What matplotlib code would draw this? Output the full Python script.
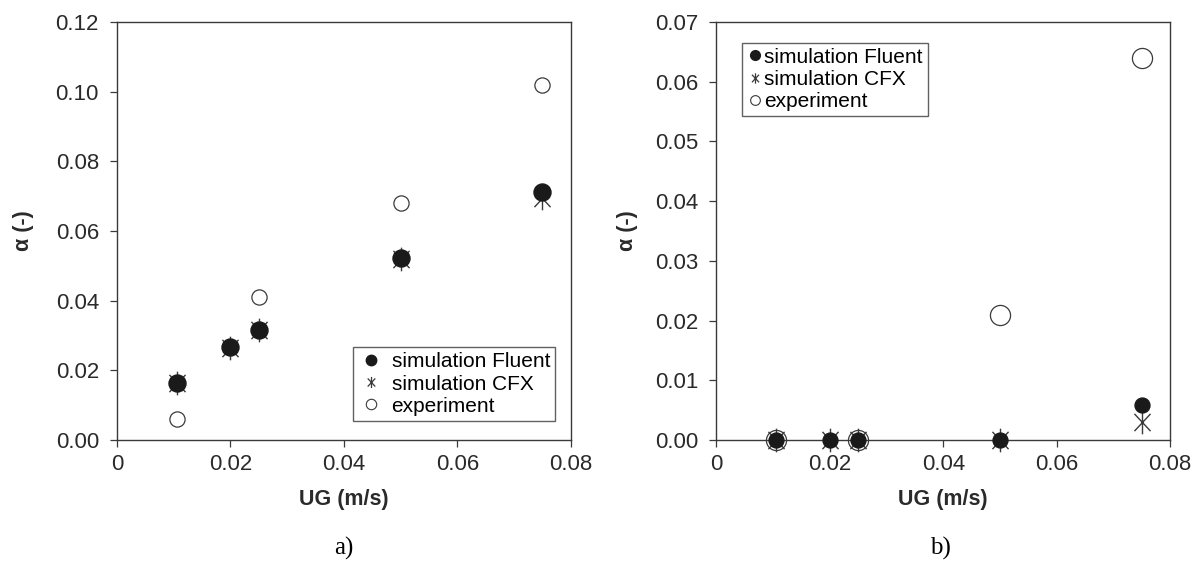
"""Gas holdup vs superficial gas velocity: simulations against experiment."""

import matplotlib
matplotlib.use("Agg")
import matplotlib.pyplot as plt
from matplotlib.lines import Line2D
from matplotlib.path import Path
import numpy as np

plt.rcParams["font.family"] = ["Liberation Sans", "DejaVu Sans"]

# panel a)
ug_a = [0.0105, 0.02, 0.025, 0.05, 0.075]
fluent_a = [0.0165, 0.0267, 0.0315, 0.0523, 0.0713]
cfx_a = [0.0165, 0.0265, 0.0315, 0.0520, 0.0695]
ug_exp_a = [0.0105, 0.025, 0.05, 0.075]
exp_a = [0.006, 0.041, 0.068, 0.102]

# panel b)
ug_b = [0.0105, 0.02, 0.025, 0.05, 0.075]
fluent_b = [0.0, 0.0, 0.0, 0.0, 0.0058]
cfx_b = [0.0, 0.0, 0.0, 0.0, 0.003]
ug_exp_b = [0.0105, 0.025, 0.05, 0.075]
exp_b = [0.0, 0.0, 0.021, 0.064]

x_ticks = [0, 0.02, 0.04, 0.06, 0.08]
x_ticklabels = ["0", "0.02", "0.04", "0.06", "0.08"]

# X with a vertical stroke through it
_c, _s = np.cos(np.radians(47)), np.sin(np.radians(47))
CFX_MARKER = Path(
    [(0, -1), (0, 1), (-_c, -_s), (_c, _s), (-_c, _s), (_c, -_s)],
    [Path.MOVETO, Path.LINETO] * 3,
)

INK = "#1a1a1a"
GREY = "#3a3a3a"


def style_axes(ax, ylim, yticks, ylabels, ylab_x):
    ax.set_xlim(0, 0.08)
    ax.set_ylim(*ylim)
    ax.set_xticks(x_ticks)
    ax.set_xticklabels(x_ticklabels)
    ax.set_yticks(yticks)
    ax.set_yticklabels(ylabels)
    ax.tick_params(direction="out", length=5, width=0.9, labelsize=16,
                   colors=GREY, labelcolor="#2a2a2a")
    ax.tick_params(axis="y", pad=8)
    ax.tick_params(axis="x", pad=5)
    for sp in ax.spines.values():
        sp.set_color(GREY)
        sp.set_linewidth(1.0)
    ax.set_xlabel("UG (m/s)", fontsize=15.5, fontweight="bold", color="#2a2a2a", va="center")
    ax.xaxis.set_label_coords(0.5, -0.141)
    ax.set_ylabel("α (-)", fontsize=15.5, fontweight="bold", color="#2a2a2a", va="center")
    ax.yaxis.set_label_coords(ylab_x, 0.5)


def legend_handles(ms_fill, ms_cfx, ms_open):
    return [
        Line2D([], [], ls="none", marker="o", ms=ms_fill, color=INK, label="simulation Fluent"),
        Line2D([], [], ls="none", marker=CFX_MARKER, ms=ms_cfx, color=GREY, mew=0.9,
               label="simulation CFX"),
        Line2D([], [], ls="none", marker="o", ms=ms_open, mfc="white", mec=GREY, mew=0.8,
               label="experiment"),
    ]


fig = plt.figure(figsize=(11.94, 5.65), dpi=100)
ax1 = fig.add_axes([0.098, 0.221, 0.380, 0.740])
ax2 = fig.add_axes([0.600, 0.221, 0.380, 0.740])

# a)
ax1.scatter(ug_exp_a, exp_a, s=120, facecolors="white", edgecolors=GREY,
            linewidths=0.9, zorder=2)
ax1.scatter(ug_a, cfx_a, s=290, marker=CFX_MARKER, color=GREY, linewidths=1.0, zorder=3)
ax1.scatter(ug_a, fluent_a, s=150, color=INK, zorder=4)
style_axes(ax1, (0, 0.12), [0, 0.02, 0.04, 0.06, 0.08, 0.10, 0.12],
           ["0.00", "0.02", "0.04", "0.06", "0.08", "0.10", "0.12"], -0.207)
leg1 = ax1.legend(handles=legend_handles(7.5, 8, 7.5), loc="lower right",
                  bbox_to_anchor=(0.966, 0.046), fontsize=15, frameon=True, fancybox=False,
                  edgecolor=GREY, handletextpad=0.4, handlelength=1.2,
                  borderpad=0.25, labelspacing=0.15, borderaxespad=0)
leg1.get_frame().set_linewidth(1.0)

# b)
ax2.scatter(ug_exp_b, exp_b, s=210, facecolors="white", edgecolors=GREY,
            linewidths=0.9, zorder=2, clip_on=False)
ax2.scatter(ug_b, cfx_b, s=290, marker=CFX_MARKER, color=GREY, linewidths=1.0,
            zorder=3, clip_on=False)
ax2.scatter(ug_b, fluent_b, s=115, color=INK, zorder=4, clip_on=False)
style_axes(ax2, (0, 0.07), [0, 0.01, 0.02, 0.03, 0.04, 0.05, 0.06, 0.07],
           ["0.00", "0.01", "0.02", "0.03", "0.04", "0.05", "0.06", "0.07"], -0.196)
leg2 = ax2.legend(handles=legend_handles(7, 7.5, 7), loc="upper left",
                  bbox_to_anchor=(0.057, 0.951), fontsize=15, frameon=True, fancybox=False,
                  edgecolor=GREY, handletextpad=0.1, handlelength=0.7,
                  borderpad=0.25, labelspacing=0.15, borderaxespad=0)
leg2.get_frame().set_linewidth(1.0)

fig.text(0.288, 0.03, "a)", fontsize=18, family="Liberation Serif", ha="center", va="center")
fig.text(0.788, 0.03, "b)", fontsize=18, family="Liberation Serif", ha="center", va="center")

fig.savefig("out.png", dpi=100)
